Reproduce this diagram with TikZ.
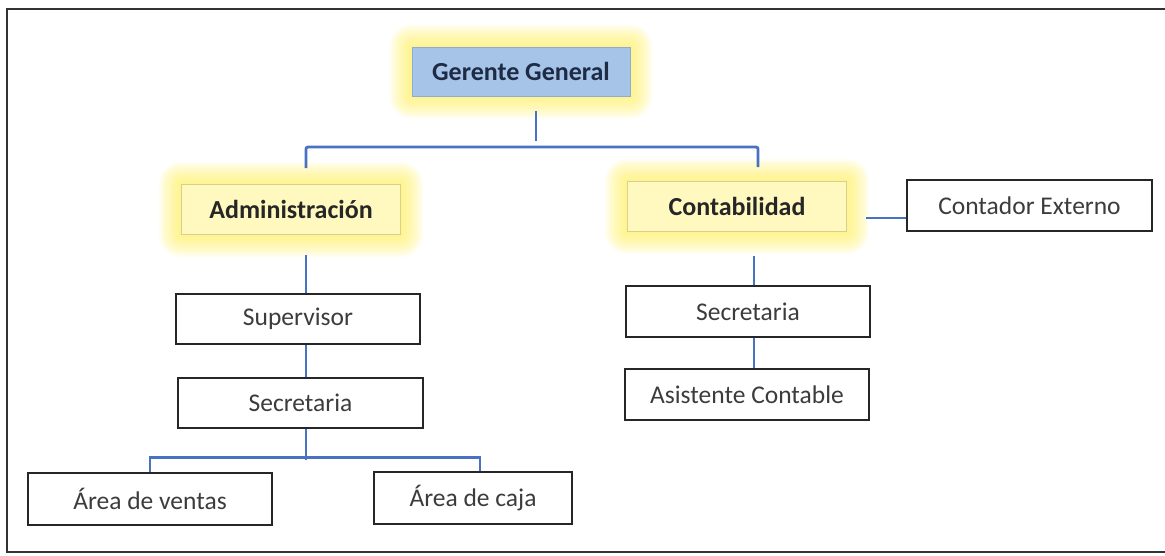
\documentclass[tikz,border=0pt]{standalone}
\usepackage{fontspec}
\setmainfont{Carlito}
\usetikzlibrary{calc,backgrounds}
\definecolor{connc}{HTML}{4A72C2}
\definecolor{boxline}{HTML}{262626}
\definecolor{txtc}{HTML}{3C3C3C}
\definecolor{glowc}{HTML}{FFEE55}
\definecolor{ggfill}{HTML}{A6C3E8}
\definecolor{ggline}{HTML}{8EAAD6}
\definecolor{ggtext}{HTML}{1E2B45}
\definecolor{ylfill}{HTML}{FFF9C0}
\definecolor{ylline}{HTML}{D9D08A}
\definecolor{framec}{HTML}{333333}
\begin{document}
\begin{tikzpicture}[x=1pt,y=-1pt,
  box/.style={draw=boxline, line width=2.8pt, fill=white, minimum height=50pt,
    inner sep=0pt, text=txtc, font=\fontsize{25.5}{28}\selectfont},
  topbox/.style={draw=ggline, line width=1pt, fill=ggfill, minimum width=218pt,
    minimum height=49pt, inner sep=0pt, text=ggtext, font=\fontsize{26}{28}\selectfont\bfseries},
  midbox/.style={draw=ylline, line width=1pt, fill=ylfill, minimum width=219pt,
    minimum height=50pt, inner sep=0pt, text=black!85, font=\fontsize{26}{28}\selectfont\bfseries},
  conn/.style={draw=connc, line width=2.8pt},
  framestyle/.style={draw=framec, line width=2.2pt}]
\useasboundingbox (0,0) rectangle (1165,555);
\draw[framestyle] (1165,9) -- (7,9) -- (7,552) -- (1165,552);

\node[topbox] (gg) at (521,71.5) {Gerente General};
\node[midbox] (admin) at (291,209.5) {Administración};
\node[midbox] (contab) at (737,206.5) {Contabilidad};
\node[box, minimum width=245pt, minimum height=51pt] (ext) at (1029.5,205.5) {Contador Externo};
\node[box, minimum width=244pt] (sup) at (298,319) {Supervisor};
\node[box, minimum width=245pt] (secl) at (300.5,403) {Secretaria};
\node[box, minimum width=244pt, minimum height=51pt] (secr) at (748,311.5) {Secretaria};
\node[box, minimum width=244pt, minimum height=51pt] (asis) at (747,394.5) {Asistente Contable};
\node[box, minimum width=244pt, minimum height=52pt] (ventas) at (150,499) {Área de ventas};
\node[box, minimum width=198pt, minimum height=52pt] (caja) at (473,498) {Área de caja};

\begin{scope}[on background layer]
\foreach \g in {gg,admin,contab}{
  \foreach \r in {2,4,...,22}{
    \fill[glowc, opacity=0.085, rounded corners=\r pt]
      ($(\g.south west)+(-\r,\r)$) rectangle ($(\g.north east)+(\r,-\r)$);
  }
}
\end{scope}

% top level
\draw[conn] ($(gg.south)+(15,14)$) -- ($(gg.south)+(15,44)$);
\draw[conn, rounded corners=2pt] ($(admin.north)+(15,-16)$) |- ($(contab.north)+(21,-34)$) -- ($(contab.north)+(21,-14)$);

% left branch
\coordinate (a1) at ($(admin.south)+(15,20)$);
\draw[conn] (a1) -- (a1 |- sup.north);
\draw[conn] (a1 |- sup.south) -- (a1 |- secl.north);
\draw[conn] (a1 |- secl.south) -- ++(0,31);
\draw[conn] (ventas.north) |- ($(caja.north)+(7,-13)$) -- ($(caja.north)+(7,0)$);

% right branch
\coordinate (c1) at ($(contab.south)+(17,24)$);
\draw[conn] (c1) -- (c1 |- secr.north);
\draw[conn] (c1 |- secr.south) -- (c1 |- asis.north);
\draw[conn] ($(contab.east)+(19,11.5)$) -- ($(ext.west)+(0,12.5)$);
\end{tikzpicture}
\end{document}
